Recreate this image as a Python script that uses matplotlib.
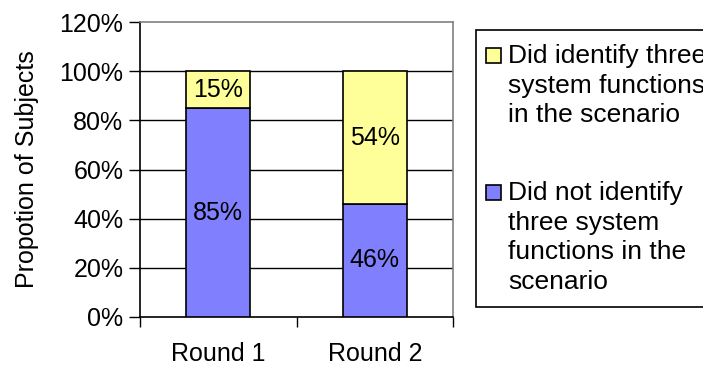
import matplotlib
matplotlib.use("Agg")
import matplotlib.pyplot as plt
from matplotlib.patches import Rectangle

plt.rcParams['font.family'] = ['Liberation Sans', 'DejaVu Sans']

categories = ["Round 1", "Round 2"]
not_identified = [85, 46]
identified = [15, 54]
series_names = ["Did identify three\nsystem functions\nin the scenario",
                "Did not identify\nthree system\nfunctions in the\nscenario"]
y_ticks = [0, 20, 40, 60, 80, 100, 120]

blue = "#8080FF"
yellow = "#FFFF99"
fs = 18
legend_fs = 19

W, H = 703, 367
fig = plt.figure(figsize=(W / 100, H / 100), dpi=100)
ax = fig.add_axes([140 / W, (H - 317) / H, 313 / W, 295 / H])

x = [i + 0.5 for i in range(len(categories))]
bw = 0.41
ax.bar(x, not_identified, width=bw, color=blue, edgecolor="black", linewidth=1.2, zorder=3)
ax.bar(x, identified, bottom=not_identified, width=bw, color=yellow,
       edgecolor="black", linewidth=1.2, zorder=3)

for xi, a, b in zip(x, not_identified, identified):
    ax.text(xi, a / 2, f"{a}%", ha="center", va="center", fontsize=fs, zorder=4)
    ax.text(xi, a + b / 2, f"{b}%", ha="center", va="center", fontsize=fs, zorder=4)

ax.set_xlim(0, len(categories))
ax.set_ylim(0, 120)
ax.set_yticks(y_ticks)
ax.set_yticklabels([f"{t}%" for t in y_ticks], fontsize=fs)
ax.set_xticks(range(len(categories) + 1))
ax.set_xticklabels([])
ax.set_xticks(x, minor=True)
ax.set_xticklabels(categories, minor=True, fontsize=fs)
ax.tick_params(axis="x", which="minor", length=0, pad=18)
ax.tick_params(axis="x", which="major", length=7, width=1, direction="out")
ax.tick_params(axis="y", length=8, width=1, direction="out", pad=4)

for t in y_ticks[1:-1]:
    ax.axhline(t, color="black", linewidth=1, zorder=1)

ax.spines["left"].set_color("black")
ax.spines["bottom"].set_color("black")
ax.spines["top"].set_color("#808080")
ax.spines["right"].set_color("#808080")
for s in ax.spines.values():
    s.set_linewidth(1.2)

ax.set_ylabel("Propotion of Subjects", fontsize=fs, labelpad=15)

# legend box, running off the right edge
fig.patches.append(Rectangle((476 / W, (H - 307) / H), 300 / W, 277 / H,
                             transform=fig.transFigure, facecolor="white",
                             edgecolor="black", linewidth=1.2))
legend_rows = [(series_names[0], yellow, 55), (series_names[1], blue, 192)]
for name, col, ymid in legend_rows:
    fig.patches.append(Rectangle((486 / W, (H - ymid - 8) / H), 15 / W, 15 / H,
                                 transform=fig.transFigure, facecolor=col,
                                 edgecolor="black", linewidth=1.2))
    fig.text(508 / W, (H - ymid + 11) / H, name, fontsize=legend_fs, va="top",
             ha="left", linespacing=1.3, transform=fig.transFigure)

fig.savefig("out.png", dpi=100)
